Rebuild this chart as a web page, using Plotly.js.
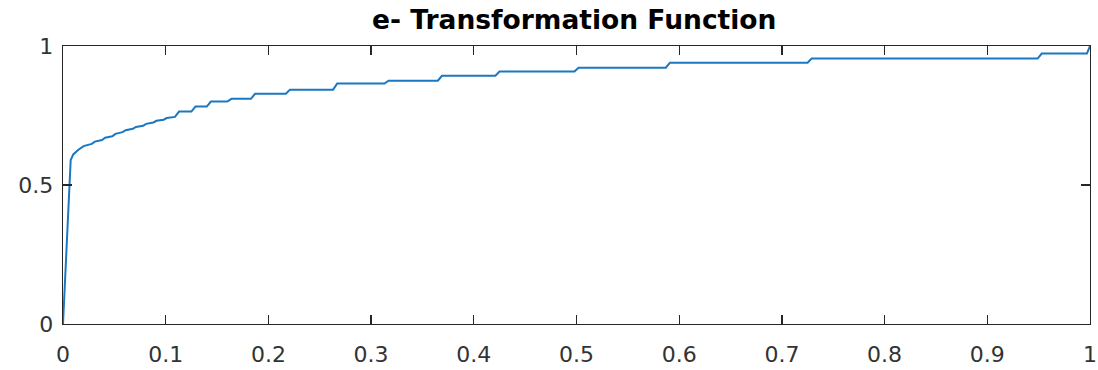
<!DOCTYPE html>
<html>
<head>
<meta charset="utf-8">
<script src="https://cdn.plot.ly/plotly-3.0.1.min.js"></script>
<style>html,body{margin:0;padding:0;background:#fff;}#chart{width:1098px;height:370px;}</style>
</head>
<body>
<div id="chart"></div>
<script>
// Transformation function values
const xValues = [0, 0.0075, 0.01, 0.015, 0.02, 0.028, 0.031, 0.038, 0.041, 0.048, 0.051, 0.058, 0.061,
  0.068, 0.071, 0.078, 0.081, 0.088, 0.091, 0.098, 0.101, 0.109,
  0.113, 0.125, 0.129, 0.140, 0.144, 0.160, 0.164, 0.183, 0.187, 0.217, 0.221, 0.263, 0.267,
  0.313, 0.317, 0.365, 0.369, 0.421, 0.425, 0.498, 0.502, 0.587, 0.591, 0.725, 0.729,
  0.949, 0.953, 0.997, 1.0];
const yValues = [0, 0.59, 0.61, 0.627, 0.64, 0.648, 0.656, 0.662, 0.67, 0.675, 0.684, 0.69, 0.697,
  0.702, 0.709, 0.713, 0.72, 0.725, 0.731, 0.735, 0.741, 0.745,
  0.764, 0.764, 0.782, 0.782, 0.800, 0.800, 0.810, 0.810, 0.828, 0.828, 0.843, 0.843, 0.865,
  0.865, 0.875, 0.875, 0.893, 0.893, 0.908, 0.908, 0.922, 0.922, 0.940, 0.940, 0.955,
  0.955, 0.973, 0.973, 1.0];
const xTickVals = [0, 0.1, 0.2, 0.3, 0.4, 0.5, 0.6, 0.7, 0.8, 0.9, 1];
const xTickText = ['0', '0.1', '0.2', '0.3', '0.4', '0.5', '0.6', '0.7', '0.8', '0.9', '1'];
const yTickVals = [0, 0.5, 1];
const yTickText = ['0', '0.5', '1'];
const chartTitle = 'e- Transformation Function';

const axisColor = '#262626';
const tickFont = {family: 'DejaVu Sans', size: 22, color: '#333333'};

Plotly.newPlot('chart', [{
  x: xValues, y: yValues, type: 'scatter', mode: 'lines',
  line: {color: '#1a78c2', width: 2}, hoverinfo: 'skip'
}], {
  width: 1098, height: 370,
  margin: {l: 63, r: 8, t: 46, b: 46, pad: 0},
  paper_bgcolor: '#ffffff', plot_bgcolor: '#ffffff',
  showlegend: false,
  title: {text: '<b>' + chartTitle + '</b>', font: {family: 'DejaVu Sans', size: 26.5, color: '#000'},
          x: 0.523, xanchor: 'center', y: 0.948, yanchor: 'middle'},
  xaxis: {range: [0, 1], tickvals: xTickVals, ticktext: xTickText, ticks: 'inside', ticklen: 9,
          tickwidth: 1.3, tickcolor: axisColor, showline: true, linecolor: axisColor, linewidth: 1.3,
          mirror: 'ticks', showgrid: false, zeroline: false, tickfont: tickFont, ticklabelstandoff: 10},
  yaxis: {range: [0, 1], tickvals: yTickVals, ticktext: yTickText, ticks: 'inside', ticklen: 9,
          tickwidth: 1.3, tickcolor: axisColor, showline: true, linecolor: axisColor, linewidth: 1.3,
          mirror: 'ticks', showgrid: false, zeroline: false, tickfont: tickFont, ticklabelstandoff: 4}
}, {staticPlot: true, displayModeBar: false});
</script>
</body>
</html>
